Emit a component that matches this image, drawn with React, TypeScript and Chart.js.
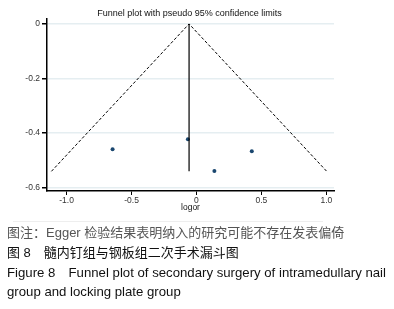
import React, { useEffect, useRef } from "react";
import { Chart, registerables } from "chart.js";

Chart.register(...registerables);

// Study estimates
const studyLogOr = [-0.646, -0.066, 0.138, 0.426];
const studySe = [0.459, 0.422, 0.539, 0.466];

// Pseudo 95% confidence limits (left limit, apex, right limit)
const funnelLogOr = [-1.117, -0.057, 1.003];
const funnelSe = [0.54, 0, 0.54];

// Pooled estimate vertical line
const pooledLogOr = [-0.057, -0.057];
const pooledSe = [0, 0.54];

// Axis ticks
const xTicks = [-1.0, -0.5, 0, 0.5, 1.0];
const xTickLabels = ["-1.0", "-0.5", "0", "0.5", "1.0"];
const yTicks = [0, -0.2, -0.4, -0.6];
const yTickLabels = ["0", "-0.2", "-0.4", "-0.6"];

const chartTitle = "Funnel plot with pseudo 95% confidence limits";
const xTitle = "logor";

const captions = [
  "图注：Egger 检验结果表明纳入的研究可能不存在发表偏倚",
  "图 8　髓内钉组与钢板组二次手术漏斗图",
  "Figure 8　Funnel plot of secondary surgery of intramedullary nail",
  "group and locking plate group",
];

const FONT = "'Liberation Sans', Arial, 'Noto Sans CJK SC', sans-serif";

export default function App() {
  const ref = useRef<HTMLCanvasElement | null>(null);

  useEffect(() => {
    const canvas = ref.current;
    if (!canvas) return;

    const titlePlugin = {
      id: "stataTitle",
      afterDraw(chart: any) {
        const { ctx, chartArea } = chart;
        ctx.save();
        ctx.font = `9px ${FONT}`;
        ctx.fillStyle = "#111";
        ctx.textAlign = "center";
        ctx.textBaseline = "middle";
        ctx.fillText(chartTitle, (chartArea.left + chartArea.right) / 2 - 1, 14);
        ctx.restore();
      },
    };

    const chart = new Chart(canvas, {
      type: "scatter",
      data: {
        datasets: [
          {
            label: "funnel",
            data: funnelLogOr.map((x, i) => ({ x, y: -funnelSe[i] })),
            showLine: true,
            borderColor: "#000",
            borderWidth: 1,
            borderDash: [3, 2],
            pointRadius: 0,
          },
          {
            label: "pooled",
            data: pooledLogOr.map((x, i) => ({ x, y: -pooledSe[i] })),
            showLine: true,
            borderColor: "#000",
            borderWidth: 1.2,
            pointRadius: 0,
          },
          {
            label: "studies",
            data: studyLogOr.map((x, i) => ({ x, y: -studySe[i] })),
            backgroundColor: "#1a476f",
            borderColor: "#1a476f",
            pointRadius: 2,
            borderWidth: 0,
          },
        ],
      },
      options: {
        animation: false,
        responsive: false,
        maintainAspectRatio: false,
        layout: { padding: { top: 19, left: 0, right: 60, bottom: 9 } },
        plugins: {
          legend: { display: false },
          tooltip: { enabled: false },
          title: { display: false },
        },
        scales: {
          x: {
            type: "linear",
            min: -1.151,
            max: 1.059,
            afterBuildTicks: (s: any) => {
              s.ticks = xTicks.map((v) => ({ value: v }));
            },
            afterFit: (s: any) => {
              s.height = 22;
            },
            ticks: {
              callback: (v: any) => {
                const i = xTicks.indexOf(Number(v));
                return i >= 0 ? xTickLabels[i] : "";
              },
              font: { size: 8.5, family: FONT },
              color: "#333",
              padding: 1,
              maxRotation: 0,
            },
            grid: {
              display: true,
              drawOnChartArea: false,
              drawTicks: true,
              tickLength: 4,
              tickColor: "#000",
              tickWidth: 1,
            },
            border: { display: true, color: "#000", width: 1.5 },
            title: {
              display: true,
              text: xTitle,
              font: { size: 8.5, family: FONT },
              color: "#111",
              padding: { top: 0, bottom: 0 },
            },
          },
          y: {
            type: "linear",
            min: -0.612,
            max: 0.018,
            afterBuildTicks: (s: any) => {
              s.ticks = yTicks.map((v) => ({ value: v }));
            },
            afterFit: (s: any) => {
              s.width = 47;
            },
            ticks: {
              callback: (v: any) => {
                const i = yTicks.findIndex((t) => Math.abs(t - Number(v)) < 1e-9);
                return i >= 0 ? yTickLabels[i] : "";
              },
              font: { size: 8.5, family: FONT },
              color: "#333",
              padding: 2,
            },
            grid: {
              display: true,
              color: "#e5eef1",
              lineWidth: 1.5,
              drawTicks: true,
              tickLength: 5,
              tickColor: "#000",
              tickWidth: 1.5,
            },
            border: { display: true, color: "#000", width: 1.5 },
          },
        },
      },
      plugins: [titlePlugin],
    });

    return () => chart.destroy();
  }, []);

  const captionStyle = (top: number, color: string, size: number): React.CSSProperties => ({
    position: "absolute",
    left: 7,
    top,
    height: 20,
    lineHeight: "20px",
    fontSize: size,
    color,
    fontFamily: FONT,
    whiteSpace: "nowrap",
  });

  return (
    <div
      style={{
        position: "absolute",
        left: 0,
        top: 0,
        width: 394,
        height: 309,
        background: "#fff",
        overflow: "hidden",
      }}
    >
      <canvas ref={ref} width={394} height={222} style={{ position: "absolute", left: 0, top: 0, width: 394, height: 222 }} />
      <div
        style={{
          position: "absolute",
          left: 13,
          top: 221,
          width: 310,
          height: 1,
          background: "#eeeeee",
        }}
      />
      <div style={captionStyle(223, "#555", 13)}>{captions[0]}</div>
      <div style={captionStyle(243, "#111", 13)}>{captions[1]}</div>
      <div style={captionStyle(263, "#111", 13.2)}>{captions[2]}</div>
      <div style={captionStyle(282, "#111", 13.2)}>{captions[3]}</div>
    </div>
  );
}
